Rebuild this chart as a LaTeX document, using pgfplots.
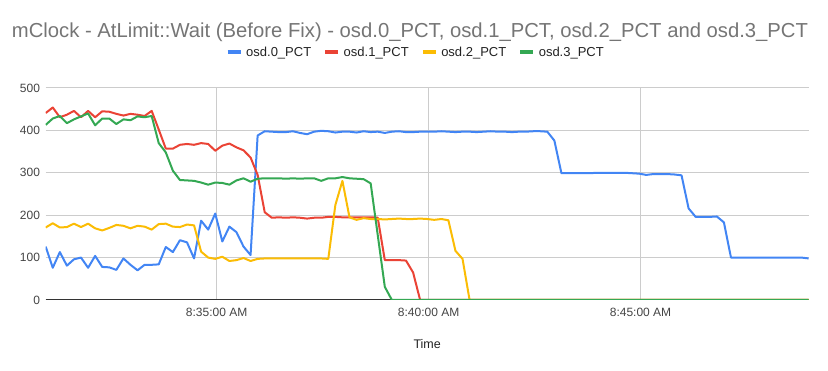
\documentclass[border=0pt]{standalone}
\usepackage{fontspec}
\setmainfont{Liberation Sans}
\usepackage{pgfplots}
\usepackage{pgfplotstable}
\pgfplotsset{compat=1.18}
\definecolor{gblue}{HTML}{4285F4}
\definecolor{gred}{HTML}{EA4335}
\definecolor{gyellow}{HTML}{FBBC04}
\definecolor{ggreen}{HTML}{34A853}
\definecolor{gridc}{HTML}{CCCCCC}
\definecolor{axisc}{HTML}{333333}
\definecolor{labc}{HTML}{444444}
\definecolor{titlec}{HTML}{757575}
\definecolor{legc}{HTML}{222222}

% one row every 10 s, starting 8:30:58 AM
\pgfplotstableread{
b r y g
126 441 171 413
76 454 181 428
113 431 171 434
81 437 172 417
96 446 180 426
100 431 172 433
76 446 180 440
104 431 169 412
78 445 164 428
77 444 170 428
71 439 177 415
98 435 175 426
83 439 169 424
70 437 175 433
83 434 173 431
83 446 166 434
84 402 179 370
125 357 180 348
113 357 173 305
141 366 172 283
136 368 178 282
98 366 176 281
187 370 114 277
166 368 100 272
204 352 97 277
138 364 102 276
173 369 92 272
160 360 94 282
126 353 99 287
106 336 92 279
388 295 97 286
398 207 98 287
397 194 98 287
396 195 98 287
396 194 98 286
398 195 98 287
394 194 98 286
391 192 98 287
397 194 98 287
399 194 98 281
398 196 97 287
395 196 224 287
397 195 281 290
397 195 195 287
395 195 189 286
398 195 193 285
396 195 191 275
397 194 191 153
394 94 190 31
397 94 191 0
398 94 192 0
396 93 191 0
396 65 191 0
397 0 192 0
397 0 191 0
397 0 189 0
398 0 191 0
397 0 188 0
396 0 116 0
397 0 97 0
397 0 0 0
396 0 0 0
397 0 0 0
398 0 0 0
397 0 0 0
397 0 0 0
396 0 0 0
397 0 0 0
397 0 0 0
398 0 0 0
398 0 0 0
397 0 0 0
376 0 0 0
299 0 0 0
299 0 0 0
299 0 0 0
299 0 0 0
299 0 0 0
300 0 0 0
300 0 0 0
300 0 0 0
300 0 0 0
300 0 0 0
299 0 0 0
298 0 0 0
295 0 0 0
297 0 0 0
297 0 0 0
297 0 0 0
296 0 0 0
294 0 0 0
216 0 0 0
196 0 0 0
196 0 0 0
196 0 0 0
197 0 0 0
183 0 0 0
100 0 0 0
100 0 0 0
100 0 0 0
100 0 0 0
100 0 0 0
100 0 0 0
100 0 0 0
100 0 0 0
100 0 0 0
100 0 0 0
100 0 0 0
98 0 0 0
}\datatable

\begin{document}
\begin{tikzpicture}[x=1pt,y=1pt]
\useasboundingbox (0,0) rectangle (828,371);
\node[anchor=base, font=\fontsize{20.25}{24}\selectfont, text=titlec, inner sep=0pt] at (410,333.7)
  {mClock - AtLimit::Wait (Before Fix) - osd.0\_PCT, osd.1\_PCT, osd.2\_PCT and osd.3\_PCT};
\begin{axis}[
  at={(45.7pt,71pt)}, anchor=south west,
  scale only axis, width=763pt, height=212pt,
  xmin=0, xmax=108, ymin=0, ymax=500,
  xtick={24.2,54.2,84.2},
  xticklabels={8:35:00 AM,8:40:00 AM,8:45:00 AM},
  ytick={0,100,200,300,400,500},
  grid=major, major grid style={color=gridc, line width=1pt},
  axis x line*=bottom, axis y line*=left,
  x axis line style={-, color=axisc, line width=1pt},
  y axis line style={draw=none},
  major tick length=0pt,
  tick label style={font=\fontsize{12}{14}\selectfont, text=labc},
  /pgf/number format/assume math mode=true,
  xticklabel style={yshift=-4.3pt},
  yticklabel style={xshift=-2.2pt},
  xlabel={Time},
  xlabel style={at={(axis description cs:0.5,0)}, anchor=center, yshift=-44.3pt,
    font=\fontsize{12.5}{15}\selectfont, text=legc},
  legend columns=4,
  legend style={draw=none, fill=none, at={(0.485,1.168)}, anchor=center,
    font=\fontsize{13}{15}\selectfont, text=legc,
    /tikz/every even column/.append style={column sep=10pt}},
  legend image code/.code={\draw[#1, line width=4pt] (0pt,0pt) -- (13pt,0pt);},
  every axis plot/.append style={line width=2pt, line join=round, mark=none},
]
\addplot[gblue] table[x expr=\coordindex, y=b] {\datatable};
\addplot[gred] table[x expr=\coordindex, y=r] {\datatable};
\addplot[gyellow] table[x expr=\coordindex, y=y] {\datatable};
\addplot[ggreen] table[x expr=\coordindex, y=g] {\datatable};
\legend{\hspace{1.5pt}osd.0\_PCT, \hspace{1.5pt}osd.1\_PCT, \hspace{1.5pt}osd.2\_PCT, \hspace{1.5pt}osd.3\_PCT}
\end{axis}
\end{tikzpicture}
\end{document}
